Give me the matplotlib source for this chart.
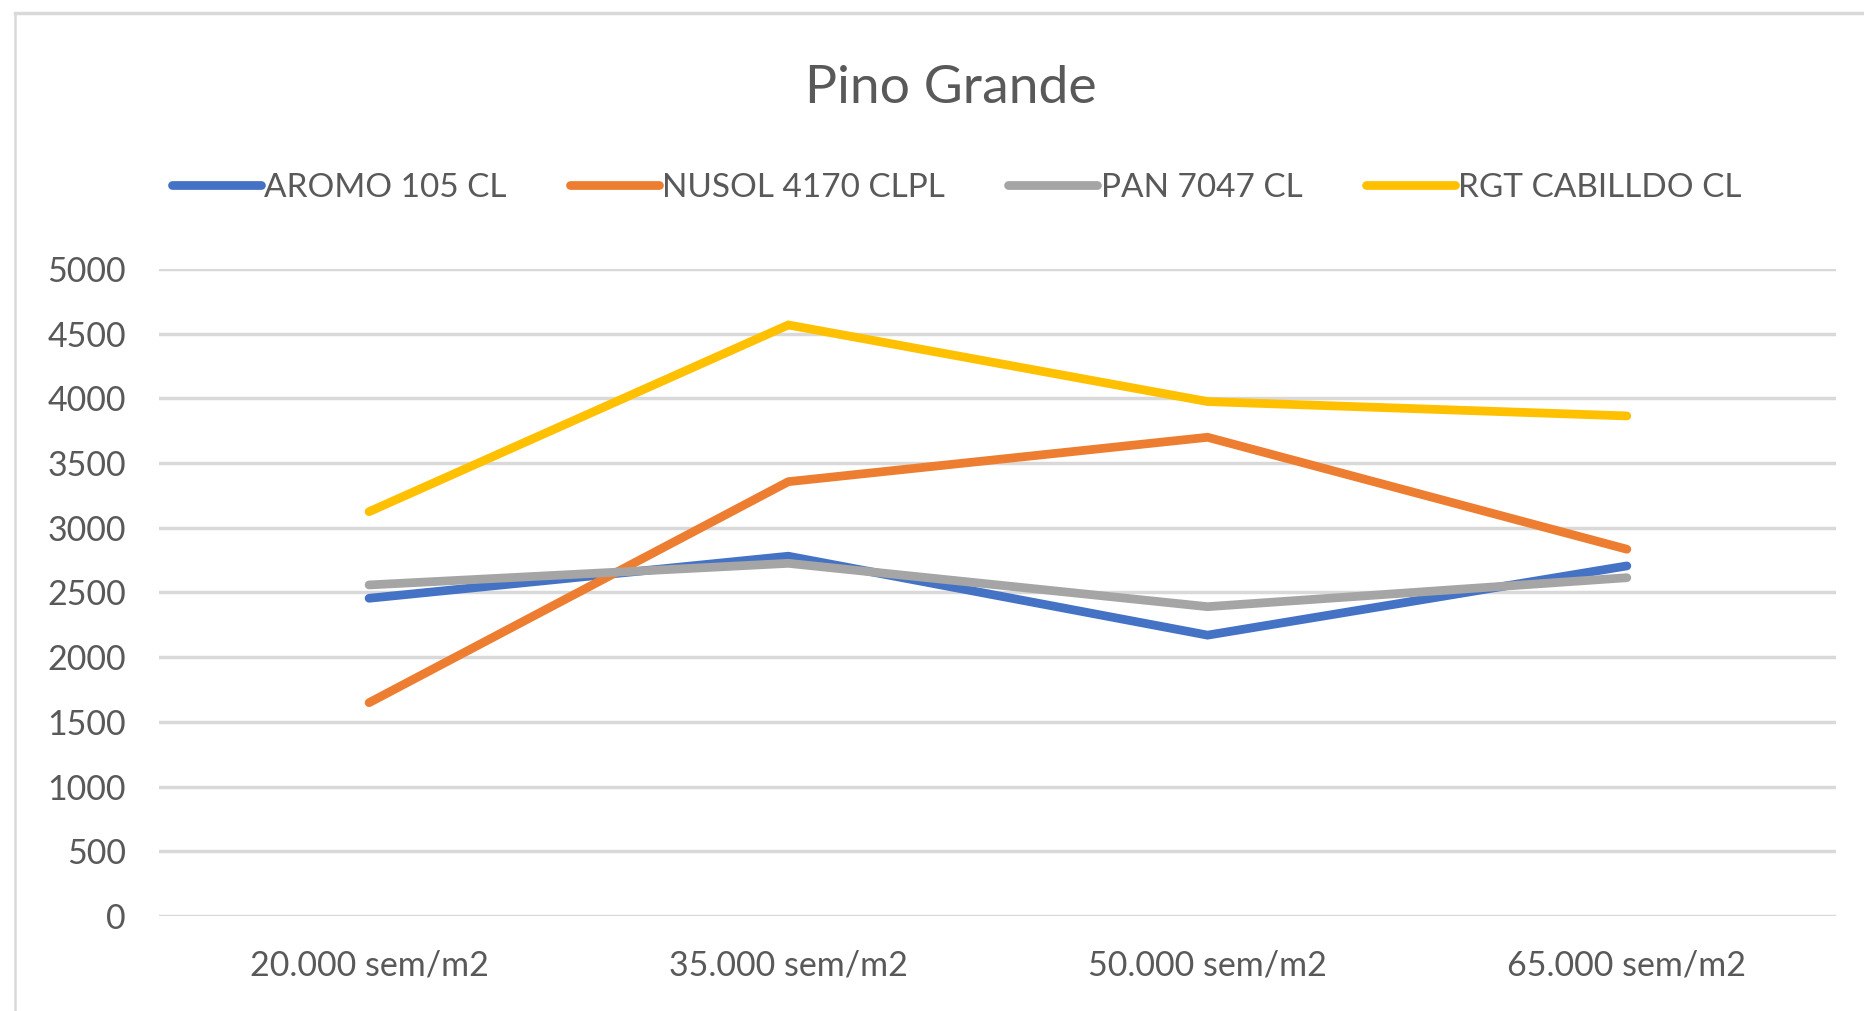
import matplotlib
matplotlib.use("Agg")
import matplotlib.pyplot as plt
from matplotlib.lines import Line2D

# data
categories = ["20.000 sem/m2", "35.000 sem/m2", "50.000 sem/m2", "65.000 sem/m2"]
aromo = [2455, 2780, 2170, 2705]
nusol = [1648, 3356, 3699, 2834]
pan = [2558, 2725, 2390, 2614]
rgt = [3124, 4567, 3975, 3864]
series_names = ["AROMO 105 CL", "NUSOL 4170 CLPL", "PAN 7047 CL", "RGT CABILLDO CL"]
y_ticks = [0, 500, 1000, 1500, 2000, 2500, 3000, 3500, 4000, 4500, 5000]

colors = ["#4472C4", "#ED7D31", "#A5A5A5", "#FFC000"]
text_color = "#595959"
grid_color = "#D9D9D9"

plt.rcParams["font.family"] = ["Lato", "DejaVu Sans"]

fig = plt.figure(figsize=(18.65, 10.11), dpi=100)
ax = fig.add_axes([0.0855, 0.094, 0.8992, 0.640])

x = list(range(len(categories)))
for vals, name, c in zip([aromo, nusol, pan, rgt], series_names, colors):
    ax.plot(x, vals, color=c, linewidth=6.3, label=name,
            solid_capstyle="round", solid_joinstyle="miter", zorder=3)

ax.set_xlim(-0.5, len(categories) - 0.5)
ax.set_ylim(0, 5000)
ax.set_yticks(y_ticks)
ax.set_yticklabels([str(v) for v in y_ticks])
ax.set_xticks(x)
ax.set_xticklabels(categories)
ax.tick_params(axis="both", length=0, labelsize=24.5, colors=text_color)
ax.tick_params(axis="y", pad=24)
ax.tick_params(axis="x", pad=24)
ax.grid(axis="y", color=grid_color, linewidth=2.5)
ax.set_axisbelow(True)
for s in ax.spines.values():
    s.set_visible(False)

fig.text(0.51, 0.912, "Pino Grande", ha="center", va="center",
         fontsize=38.5, color=text_color)

leg = fig.legend(loc="center", bbox_to_anchor=(0.513, 0.814), ncol=4,
                 frameon=False, fontsize=24, handlelength=2.67,
                 handletextpad=0.1, columnspacing=1.9, labelcolor=text_color)
for h in leg.get_lines():
    h.set_linewidth(6.3)
    h.set_solid_capstyle("round")

# chart frame (partly cropped in the reference)
fig.add_artist(Line2D([0.008, 1.0], [0.987, 0.987], transform=fig.transFigure,
                      color=grid_color, linewidth=2.5))
fig.add_artist(Line2D([0.008, 0.008], [0.0, 0.987], transform=fig.transFigure,
                      color=grid_color, linewidth=1.8))

fig.savefig("out.png", dpi=100)
